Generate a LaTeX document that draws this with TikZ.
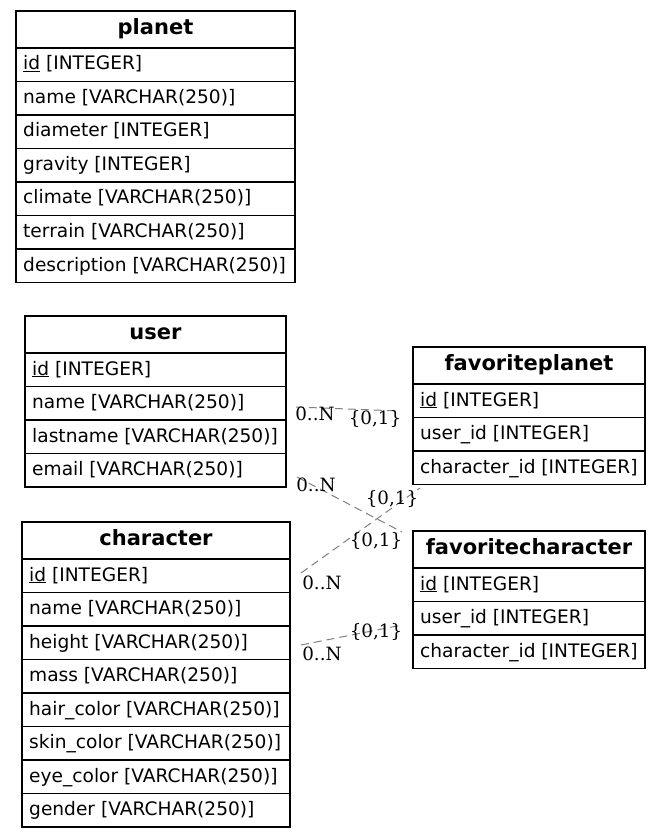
\documentclass[tikz,border=0pt]{standalone}
\usepackage{fontspec}
\setmainfont{DejaVu Sans}
\newfontfamily\lblfont{DejaVu Serif}
\usetikzlibrary{calc}
\tikzset{
  x=1pt, y=-1pt,
  hdrbox/.style={draw=black, line width=1.1pt, anchor=north west, minimum height=37pt, inner sep=0pt, outer sep=0pt},
  rowbox/.style={draw=black, line width=1.1pt, anchor=north west, minimum height=33.5pt, inner sep=0pt, outer sep=0pt},
  hdrtxt/.style={anchor=base, inner sep=0pt, font=\fontsize{21}{24}\selectfont\bfseries},
  rowtxt/.style={anchor=base west, inner sep=0pt, font=\fontsize{18.6}{22}\selectfont},
  rel/.style={draw=black!50, line width=1pt, dash pattern=on 8pt off 5pt},
  lbl/.style={inner sep=0pt, font=\fontsize{18.3}{20}\lblfont},
}
\newcommand{\erhdr}[5]{%
  \node[hdrbox, minimum width=#4pt] (#1) at (#2,#3) {};
  \node[hdrtxt] (#1-t) at ($(#1.north)+(0,23.5)$) {#5};
}
\newcommand{\errow}[4]{%
  \node[rowbox, minimum width=#3pt] (#1) at (#2.south west) {};
  \node[rowtxt] (#1-t) at ($(#1.north west)+(7,22)$) {#4};
}
\begin{document}
\begin{tikzpicture}
\fill[white] (0,0) rectangle (660,837);
\useasboundingbox (0,0) rectangle (660,837);

% planet
\erhdr{planet}{16}{11}{279}{planet}
\errow{planet-id}{planet}{279}{\underline{id} [INTEGER]}
\errow{planet-name}{planet-id}{279}{name [VARCHAR(250)]}
\errow{planet-diameter}{planet-name}{279}{diameter [INTEGER]}
\errow{planet-gravity}{planet-diameter}{279}{gravity [INTEGER]}
\errow{planet-climate}{planet-gravity}{279}{climate [VARCHAR(250)]}
\errow{planet-terrain}{planet-climate}{279}{terrain [VARCHAR(250)]}
\errow{planet-description}{planet-terrain}{279}{description [VARCHAR(250)]}

% user
\erhdr{user}{25}{316}{261}{user}
\errow{user-id}{user}{261}{\underline{id} [INTEGER]}
\errow{user-name}{user-id}{261}{name [VARCHAR(250)]}
\errow{user-lastname}{user-name}{261}{lastname [VARCHAR(250)]}
\errow{user-email}{user-lastname}{261}{email [VARCHAR(250)]}

% character
\erhdr{character}{22}{522}{268}{character}
\errow{character-id}{character}{268}{\underline{id} [INTEGER]}
\errow{character-name}{character-id}{268}{name [VARCHAR(250)]}
\errow{character-height}{character-name}{268}{height [VARCHAR(250)]}
\errow{character-mass}{character-height}{268}{mass [VARCHAR(250)]}
\errow{character-hair}{character-mass}{268}{hair\_color [VARCHAR(250)]}
\errow{character-skin}{character-hair}{268}{skin\_color [VARCHAR(250)]}
\errow{character-eye}{character-skin}{268}{eye\_color [VARCHAR(250)]}
\errow{character-gender}{character-eye}{268}{gender [VARCHAR(250)]}

% favoriteplanet
\erhdr{favoriteplanet}{413}{347}{232}{favoriteplanet}
\errow{favoriteplanet-id}{favoriteplanet}{232}{\underline{id} [INTEGER]}
\errow{favoriteplanet-user}{favoriteplanet-id}{232}{user\_id [INTEGER]}
\errow{favoriteplanet-character}{favoriteplanet-user}{232}{character\_id [INTEGER]}

% favoritecharacter
\erhdr{favoritecharacter}{413}{531}{232}{favoritecharacter}
\errow{favoritecharacter-id}{favoritecharacter}{232}{\underline{id} [INTEGER]}
\errow{favoritecharacter-user}{favoritecharacter-id}{232}{user\_id [INTEGER]}
\errow{favoritecharacter-character}{favoritecharacter-user}{232}{character\_id [INTEGER]}

% relation end points
\coordinate (e1s) at (296,407); \coordinate (e1t) at (400,411);
\coordinate (e2s) at (297,477); \coordinate (e2t) at (402,532);
\coordinate (e3s) at (301,573); \coordinate (e3t) at (420,488);
\coordinate (e4s) at (301,645); \coordinate (e4t) at (402,625);

\draw[rel] (e1s) -- (e1t);
\draw[rel] (e2s) -- (e2t);
\draw[rel] (e3s) -- (e3t);
\draw[rel] (e4s) -- (e4t);

\node[lbl] (l1a) at (315,414) {0..N};
\node[lbl] (l1b) at (375,419) {\{0,1\}};
\node[lbl] (l2a) at (316,485) {0..N};
\node[lbl] (l2b) at (376,541) {\{0,1\}};
\node[lbl] (l3a) at (322,583) {0..N};
\node[lbl] (l3b) at (392,499) {\{0,1\}};
\node[lbl] (l4a) at (322,654) {0..N};
\node[lbl] (l4b) at (376,632) {\{0,1\}};
\end{tikzpicture}
\end{document}
